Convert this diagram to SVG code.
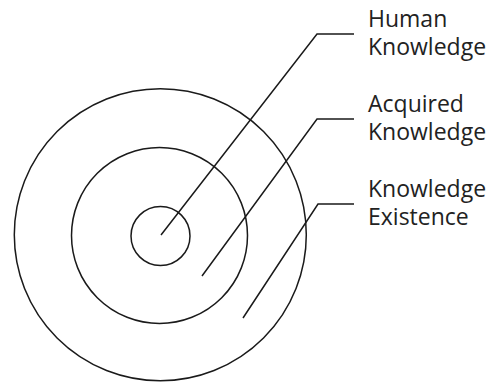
<svg xmlns="http://www.w3.org/2000/svg" width="489" height="386" viewBox="0 0 489 386">
<style>
.ring{fill:none;stroke:#1a1a1a;stroke-width:1.5}
.lead{fill:none;stroke:#1a1a1a;stroke-width:1.5}
.lbl{font-family:"Open Sans","Noto Sans",sans-serif;font-size:23px;fill:#222}
</style>
<rect width="489" height="386" fill="#fff"/>
<g id="knowledge-existence-ring"><circle class="ring" cx="160.3" cy="234.8" r="146"/></g>
<g id="acquired-knowledge-ring"><circle class="ring" cx="159.5" cy="235.5" r="88"/></g>
<g id="human-knowledge-ring"><circle class="ring" cx="160.5" cy="236" r="29.5"/></g>
<g id="connectors">
<polyline class="lead" points="161,235 317,34 354,34"/>
<polyline class="lead" points="202,276 317,119 354,119"/>
<polyline class="lead" points="243,318 318,204 354,204"/>
</g>
<g id="label-human"><text class="lbl" x="368" y="26.5">Human</text><text class="lbl" x="368" y="55">Knowledge</text></g>
<g id="label-acquired"><text class="lbl" x="368" y="111.5">Acquired</text><text class="lbl" x="368" y="140">Knowledge</text></g>
<g id="label-existence"><text class="lbl" x="368" y="196.5">Knowledge</text><text class="lbl" x="368" y="225">Existence</text></g>
</svg>
